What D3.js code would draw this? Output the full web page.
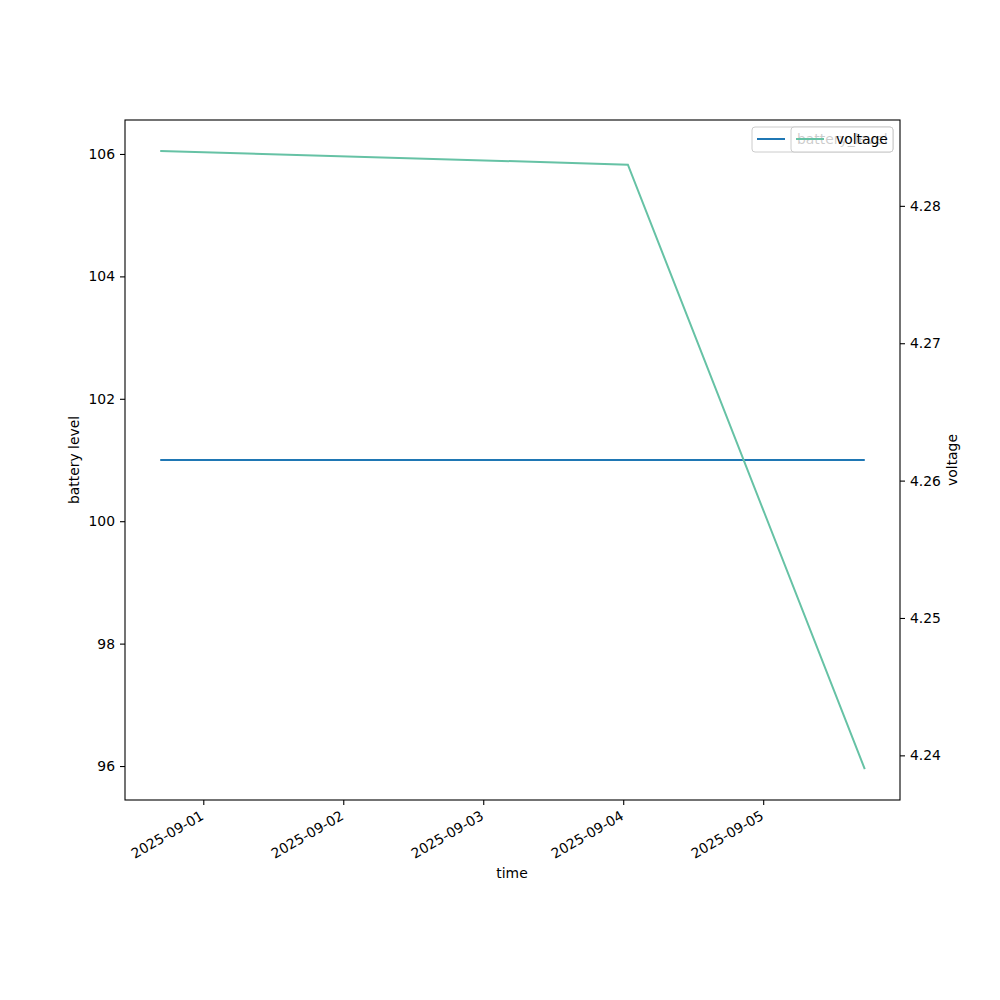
<!DOCTYPE html>
<html>
<head>
  <meta charset="utf-8">
  <style>
    body { margin: 0; background: #fff; }
    text { font-family: "DejaVu Sans", sans-serif; font-size: 13.9px; fill: #000; }
    .axis path, .axis line { stroke: #000; stroke-width: 1.1; }
  </style>
</head>
<body>
  <script src="https://d3js.org/d3.v7.min.js"></script>
  <script>
    // data
    var times = ["2025-08-31T16:37", "2025-09-04T00:48", "2025-09-05T17:25"];
    var batteryLevel = [101, 101, 101];
    var voltage = [4.284, 4.283, 4.239];
    var xTicks = ["2025-09-01", "2025-09-02", "2025-09-03", "2025-09-04", "2025-09-05"];
    var leftTicks = [96, 98, 100, 102, 104, 106];
    var rightTicks = [4.24, 4.25, 4.26, 4.27, 4.28];

    var parse = d3.timeParse("%Y-%m-%dT%H:%M");
    var parseDay = d3.timeParse("%Y-%m-%d");
    var dates = times.map(parse);

    var margin = {top: 120, right: 100, bottom: 200, left: 125},
        width = 1000 - margin.left - margin.right,
        height = 1000 - margin.top - margin.bottom;

    function pad(ext, f) {
      var lo = +ext[0], hi = +ext[1], d = (hi - lo) * f;
      return [lo - d, hi + d];
    }

    var xExt = pad(d3.extent(dates), 0.05);
    var x = d3.scaleTime().domain([new Date(xExt[0]), new Date(xExt[1])]).range([0, width]);
    // constant series: widened by 5% of its value, then 5% margins
    var bMin = d3.min(batteryLevel) * 0.95, bMax = d3.max(batteryLevel) * 1.05;
    var yL = d3.scaleLinear().domain(pad([bMin, bMax], 0.05)).range([height, 0]);
    var yR = d3.scaleLinear().domain(pad(d3.extent(voltage), 0.05)).range([height, 0]);

    var svg = d3.select("body").append("svg")
        .attr("width", 1000)
        .attr("height", 1000);

    var g = svg.append("g")
        .attr("transform", "translate(" + margin.left + "," + margin.top + ")");

    // lines
    var lineB = d3.line()
        .x(function(d, i) { return x(dates[i]); })
        .y(function(d) { return yL(d); });
    var lineV = d3.line()
        .x(function(d, i) { return x(dates[i]); })
        .y(function(d) { return yR(d); });

    g.append("path").datum(batteryLevel)
        .attr("d", lineB).attr("fill", "none")
        .attr("stroke", "#1f77b4").attr("stroke-width", 2);
    g.append("path").datum(voltage)
        .attr("d", lineV).attr("fill", "none")
        .attr("stroke", "#66c2a5").attr("stroke-width", 2);

    // frame
    g.append("rect").attr("width", width).attr("height", height)
        .attr("fill", "none").attr("stroke", "#000").attr("stroke-width", 1.1);

    // x axis
    var xa = g.append("g").attr("class", "axis")
        .attr("transform", "translate(0," + height + ")")
        .call(d3.axisBottom(x).tickValues(xTicks.map(parseDay)).tickSize(5).tickFormat(""));
    xa.select(".domain").remove();
    xa.selectAll(".tick").append("text")
        .attr("transform", "translate(-4,10) rotate(-30)")
        .attr("text-anchor", "end")
        .attr("dy", "0.71em")
        .text(function(d, i) { return xTicks[i]; });

    // left axis
    var la = g.append("g").attr("class", "axis")
        .call(d3.axisLeft(yL).tickValues(leftTicks).tickSize(5).tickPadding(5));
    la.select(".domain").remove();
    la.selectAll("text").attr("fill", "#000");

    // right axis
    var ra = g.append("g").attr("class", "axis")
        .attr("transform", "translate(" + width + ",0)")
        .call(d3.axisRight(yR).tickValues(rightTicks).tickSize(5).tickPadding(5).tickFormat(d3.format(".2f")));
    ra.select(".domain").remove();
    ra.selectAll("text").attr("fill", "#000");

    // axis labels
    svg.append("text").attr("x", 512).attr("y", 878).attr("text-anchor", "middle").text("time");
    svg.append("text").attr("transform", "translate(79,460) rotate(-90)")
        .attr("text-anchor", "middle").text("battery level");
    svg.append("text").attr("transform", "translate(957,460) rotate(-90)")
        .attr("text-anchor", "middle").text("voltage");

    // legends (two, overlapping, as in the reference)
    function legend(x0, label, color) {
      var lg = svg.append("g");
      lg.append("rect").attr("x", x0).attr("y", 127).attr("width", 893 - x0).attr("height", 25)
          .attr("rx", 3).attr("fill", "#fff").attr("fill-opacity", 0.8)
          .attr("stroke", "#ccc").attr("stroke-width", 1);
      lg.append("line").attr("x1", x0 + 5).attr("x2", x0 + 33).attr("y1", 139).attr("y2", 139)
          .attr("stroke", color).attr("stroke-width", 2);
      lg.append("text").attr("x", x0 + 45).attr("y", 144).text(label);
    }
    legend(752, "battery_level", "#1f77b4");
    legend(791, "voltage", "#66c2a5");
  </script>
</body>
</html>
